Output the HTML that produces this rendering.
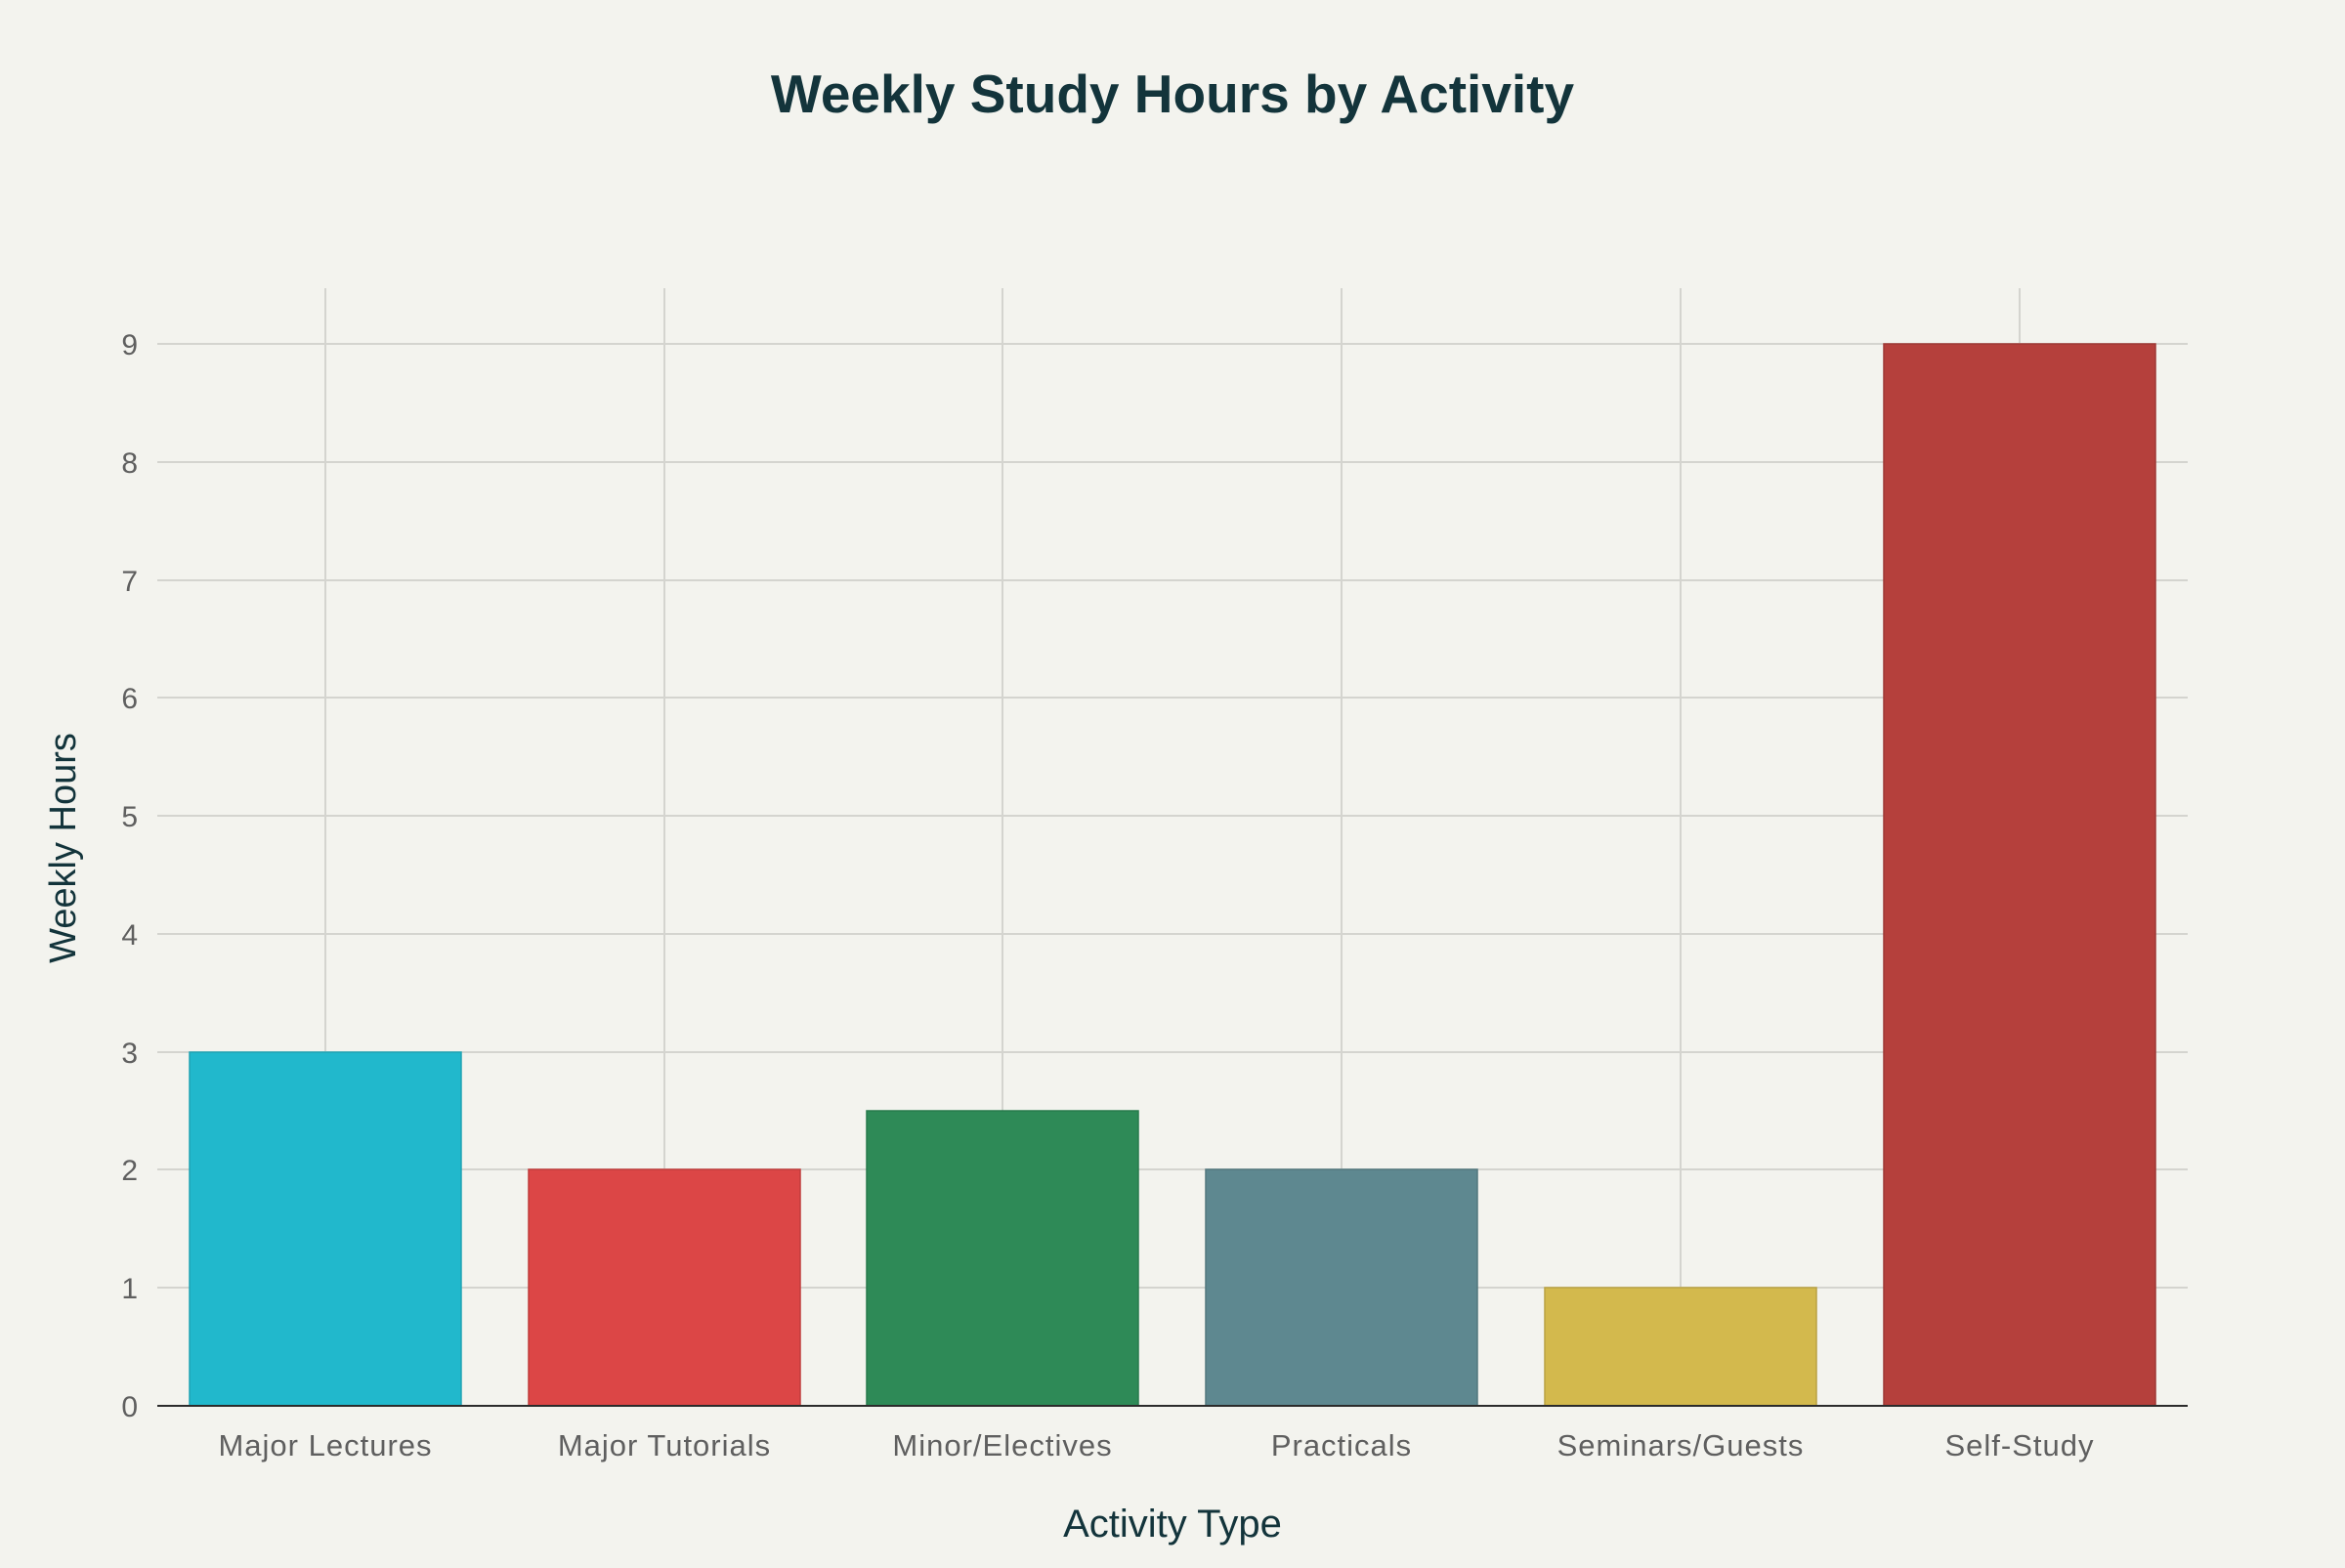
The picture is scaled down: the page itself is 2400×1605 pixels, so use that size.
<!DOCTYPE html>
<html><head><meta charset="utf-8"><style>
html,body{margin:0;padding:0;background:#f3f3ee;}
</style></head><body>
<svg width="2400" height="1600" xmlns="http://www.w3.org/2000/svg" font-family="Liberation Sans, sans-serif">
<rect width="2400" height="1600" fill="#f3f3ee"/>
<text x="1200" y="115" text-anchor="middle" font-size="55" font-weight="bold" fill="#13343b">Weekly Study Hours by Activity</text>
<g stroke="#d4d4cf" stroke-width="2">
<line x1="161" x2="2239" y1="1318" y2="1318"/>
<line x1="161" x2="2239" y1="1197" y2="1197"/>
<line x1="161" x2="2239" y1="1077" y2="1077"/>
<line x1="161" x2="2239" y1="956" y2="956"/>
<line x1="161" x2="2239" y1="835" y2="835"/>
<line x1="161" x2="2239" y1="714" y2="714"/>
<line x1="161" x2="2239" y1="594" y2="594"/>
<line x1="161" x2="2239" y1="473" y2="473"/>
<line x1="161" x2="2239" y1="352" y2="352"/>
<line x1="333" x2="333" y1="295" y2="1439"/>
<line x1="680" x2="680" y1="295" y2="1439"/>
<line x1="1026" x2="1026" y1="295" y2="1439"/>
<line x1="1373" x2="1373" y1="295" y2="1439"/>
<line x1="1720" x2="1720" y1="295" y2="1439"/>
<line x1="2067" x2="2067" y1="295" y2="1439"/>
</g>
<g stroke-width="1.5">
<rect x="194" y="1077" width="278" height="362" fill="#21b8cc" stroke="#1fa3b3"/>
<rect x="541" y="1197" width="278" height="242" fill="#dc4646" stroke="#c03c3c"/>
<rect x="887" y="1137" width="278" height="302" fill="#2e8a57" stroke="#277a4c"/>
<rect x="1234" y="1197" width="278" height="242" fill="#5e8890" stroke="#52777e"/>
<rect x="1581" y="1318" width="278" height="121" fill="#d3b94d" stroke="#b9a243"/>
<rect x="1928" y="352" width="278" height="1087" fill="#b5403c" stroke="#9e3835"/>
</g>
<line x1="161" x2="2239" y1="1439" y2="1439" stroke="#2b2b2b" stroke-width="2"/>
<g font-size="30" fill="#5f5f5f" text-anchor="end">
<text x="141" y="1450">0</text><text x="141" y="1329">1</text><text x="141" y="1208">2</text>
<text x="141" y="1088">3</text><text x="141" y="967">4</text><text x="141" y="846">5</text>
<text x="141" y="725">6</text><text x="141" y="605">7</text><text x="141" y="484">8</text>
<text x="141" y="363">9</text>
</g>
<g font-size="31" fill="#5f5f5f" text-anchor="middle" letter-spacing="1">
<text x="333" y="1490">Major Lectures</text>
<text x="680" y="1490">Major Tutorials</text>
<text x="1026" y="1490">Minor/Electives</text>
<text x="1373" y="1490">Practicals</text>
<text x="1720" y="1490">Seminars/Guests</text>
<text x="2067" y="1490">Self-Study</text>
</g>
<text x="1200" y="1573" text-anchor="middle" font-size="40" fill="#13343b">Activity Type</text>
<text transform="translate(77,868) rotate(-90)" text-anchor="middle" font-size="38" fill="#13343b">Weekly Hours</text>
</svg>
</body></html>
